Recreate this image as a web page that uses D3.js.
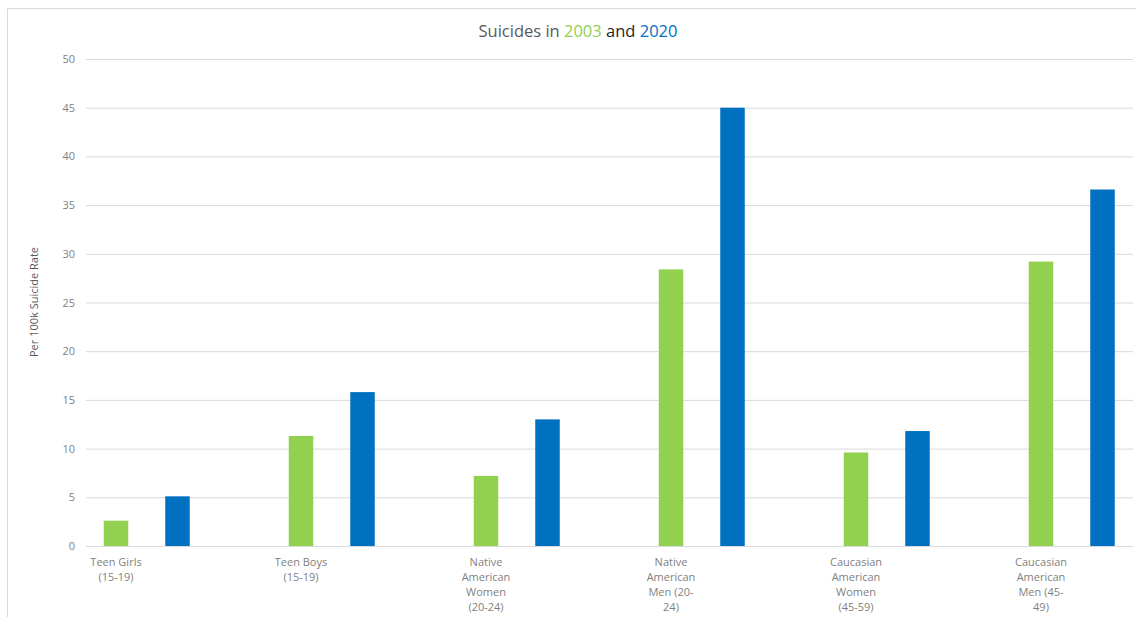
<!DOCTYPE html>
<html>
<head>
<meta charset="utf-8">
<script src="https://cdn.jsdelivr.net/npm/d3@7"></script>
<style>
  html, body { margin: 0; padding: 0; background: #fff; }
  svg { display: block; font-family: "Open Sans", "Noto Sans", sans-serif; }
</style>
</head>
<body>
<svg id="chart" width="1136" height="617"></svg>
<script>
const categories = [
  ["Teen Girls", "(15-19)"],
  ["Teen Boys", "(15-19)"],
  ["Native", "American", "Women", "(20-24)"],
  ["Native", "American", "Men (20-", "24)"],
  ["Caucasian", "American", "Women", "(45-59)"],
  ["Caucasian", "American", "Men (45-", "49)"]
];
const categoryNames = categories.map(c => c.join(" "));
const seriesNames = ["2003", "2020"];
const values2003 = [2.6, 11.3, 7.2, 28.4, 9.6, 29.2];
const values2020 = [5.1, 15.8, 13.0, 45.0, 11.8, 36.6];
const yTicks = [0, 5, 10, 15, 20, 25, 30, 35, 40, 45, 50];
const colors = { "2003": "#92d050", "2020": "#0070c0" };

const svg = d3.select("#chart");
const plotLeft = 86, plotRight = 1133, plotTop = 59, plotBottom = 546;

// frame
svg.append("path")
  .attr("d", "M7.5,617 V8.5 H1136")
  .attr("fill", "none").attr("stroke", "#d9d9d9").attr("stroke-width", 1);

const y = d3.scaleLinear().domain([0, 50]).range([plotBottom, plotTop]);
const x = d3.scaleBand().domain(categoryNames).range([plotLeft, plotLeft + 185 * 6]).paddingInner(0).paddingOuter(0);
const xs = d3.scaleBand().domain(seriesNames).range([17.75, 103.75]).paddingInner(0.6016).paddingOuter(0);

// gridlines
const yAxis = d3.axisLeft(y).tickValues(yTicks).tickSize(-(plotRight - plotLeft)).tickPadding(11);
const gy = svg.append("g").attr("transform", `translate(${plotLeft},0)`).call(yAxis);
gy.select(".domain").remove();
gy.selectAll(".tick line").attr("stroke", "#d9d9d9").attr("stroke-width", 1);
gy.selectAll(".tick text").attr("fill", "#7f7f7f").style("font-size", "11px").style("font-family", "'Open Sans', sans-serif");

// bars
const data = categoryNames.map((c, i) => ({ cat: c, vals: [{ s: "2003", v: values2003[i] }, { s: "2020", v: values2020[i] }] }));
const groups = svg.append("g").selectAll("g").data(data).join("g")
  .attr("transform", d => `translate(${x(d.cat)},0)`);
groups.selectAll("rect").data(d => d.vals).join("rect")
  .attr("x", d => xs(d.s))
  .attr("width", xs.bandwidth())
  .attr("y", d => y(d.v))
  .attr("height", d => y(0) - y(d.v))
  .attr("fill", d => colors[d.s]);

// x labels
const labels = svg.append("g").selectAll("text").data(categories.map((c, i) => ({ lines: c, cat: categoryNames[i] }))).join("text")
  .attr("x", d => x(d.cat) + xs("2003") + xs.bandwidth() / 2)
  .attr("y", 566)
  .attr("text-anchor", "middle")
  .attr("fill", "#7f7f7f")
  .style("font-size", "11px");
labels.selectAll("tspan").data(d => d.lines.map(l => ({ l, x: x(d.cat) + xs("2003") + xs.bandwidth() / 2 }))).join("tspan")
  .attr("x", d => d.x)
  .attr("dy", (d, i) => i === 0 ? 0 : 15)
  .text(d => d.l);

// y axis title
svg.append("text")
  .attr("transform", "translate(38,302) rotate(-90)")
  .attr("text-anchor", "middle")
  .attr("fill", "#595959")
  .style("font-size", "11px")
  .text("Per 100k Suicide Rate");

// title
const title = svg.append("text")
  .attr("x", 578).attr("y", 37)
  .attr("text-anchor", "middle")
  .style("font-size", "16.5px");
title.append("tspan").attr("fill", "#595959").text("Suicides in ");
title.append("tspan").attr("fill", colors["2003"]).text("2003");
title.append("tspan").attr("fill", "#262626").text(" and ");
title.append("tspan").attr("fill", colors["2020"]).text("2020");
</script>
</body>
</html>
